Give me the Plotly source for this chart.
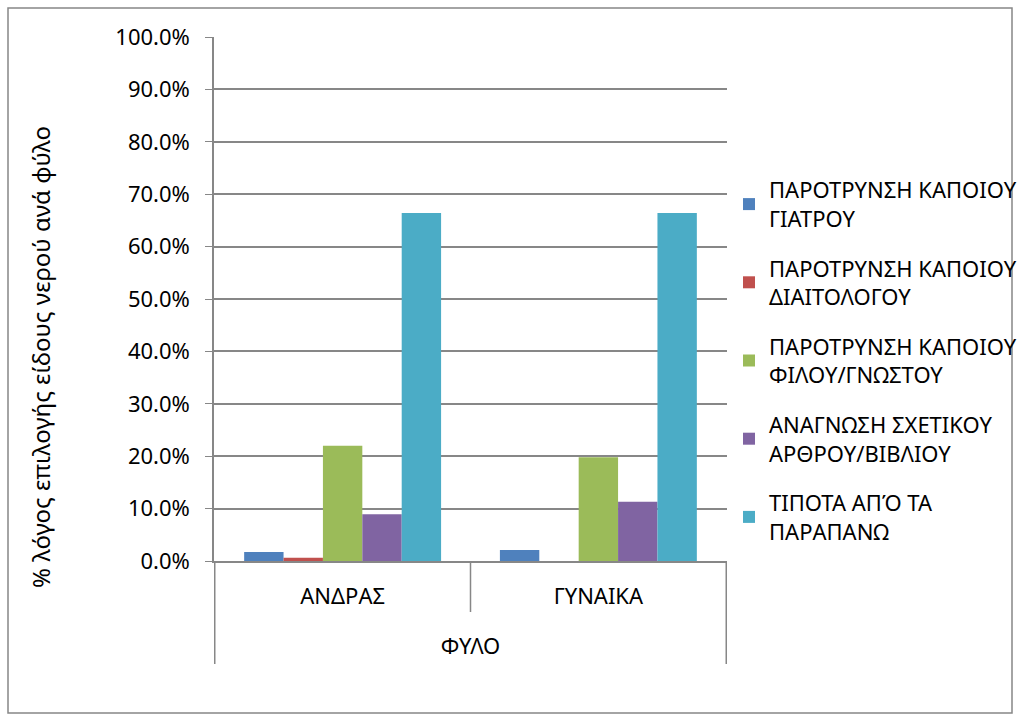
import plotly.graph_objects as go

# categories
genders = ["ΑΝΔΡΑΣ", "ΓΥΝΑΙΚΑ"]
group_title = "ΦΥΛΟ"
y_title = "% λόγος επιλογής είδους νερού ανά φύλο"

# series (percent)
series_names = [
    "ΠΑΡΟΤΡΥΝΣΗ ΚΑΠΟΙΟΥ<br>ΓΙΑΤΡΟΥ",
    "ΠΑΡΟΤΡΥΝΣΗ ΚΑΠΟΙΟΥ<br>ΔΙΑΙΤΟΛΟΓΟΥ",
    "ΠΑΡΟΤΡΥΝΣΗ ΚΑΠΟΙΟΥ<br>ΦΙΛΟΥ/ΓΝΩΣΤΟΥ",
    "ΑΝΑΓΝΩΣΗ ΣΧΕΤΙΚΟΥ<br>ΑΡΘΡΟΥ/ΒΙΒΛΙΟΥ",
    "ΤΙΠΟΤΑ ΑΠΌ ΤΑ<br>ΠΑΡΑΠΑΝΩ",
]
doctor = [1.7, 2.1]
dietitian = [0.6, 0.0]
friend = [22.0, 19.8]
article = [8.9, 11.3]
nothing = [66.4, 66.4]

colors = ["#4F81BD", "#C0504D", "#9BBB59", "#8064A2", "#4BACC6"]
values = [doctor, dietitian, friend, article, nothing]

W, H = 1020, 722
L, R, T, B = 214, 293, 37, 161
PW, PH = W - L - R, H - T - B
GRID = "#878787"
font = "Noto Sans"
FS = 22


def py(pix):
    # pixel row -> paper y
    return (H - B - pix) / PH


def px(pix):
    return (pix - L) / PW


fig = go.Figure()
for i, (name, vals, col) in enumerate(zip(series_names, values, colors)):
    fig.add_trace(go.Bar(
        x=genders,
        y=vals,
        name=name,
        marker=dict(color=col, line=dict(width=0)),
        legendgroup=f"g{i}",
    ))

fig.update_layout(
    width=W, height=H,
    margin=dict(l=L, r=R, t=T, b=B, autoexpand=False),
    paper_bgcolor="white", plot_bgcolor="white",
    font=dict(family=font, size=FS, color="black"),
    barmode="group",
    bargap=0.23, bargroupgap=0,
    showlegend=True,
    legend=dict(
        x=px(729), xanchor="left", y=py(169), yanchor="top",
        font=dict(size=FS, family=font),
        bgcolor="rgba(0,0,0,0)",
        tracegroupgap=18,
        itemwidth=30,
    ),
)
fig.update_yaxes(
    range=[0, 100], dtick=10,
    tickformat=".1f", ticksuffix="%",
    showgrid=True, gridcolor=GRID, gridwidth=1.5,
    showline=True, linecolor=GRID, linewidth=1.5,
    ticks="outside", ticklen=7, tickcolor=GRID,
    zeroline=False,
    ticklabelstandoff=11,
)
fig.update_xaxes(
    showline=True, linecolor=GRID, linewidth=1.5,
    ticks="", ticklabelstandoff=15,
    tickfont=dict(size=FS),
    title=dict(text=group_title, font=dict(size=FS), standoff=29),
)

# category dividers below the axis
fig.add_shape(type="line", xref="x", yref="paper", x0=0.5, x1=0.5,
              y0=0, y1=py(612), line=dict(color=GRID, width=1.5))
for xb in [-0.5, 1.5]:
    fig.add_shape(type="line", xref="x", yref="paper", x0=xb, x1=xb,
                  y0=0, y1=py(664), line=dict(color=GRID, width=1.5))

# y axis title, centred on the whole chart body
fig.add_annotation(
    text=y_title, textangle=-90, showarrow=False,
    xref="paper", yref="paper", x=px(40), y=py(357),
    xanchor="center", yanchor="middle",
    font=dict(size=24, family=font),
)

# outer chart border
fig.add_shape(
    type="rect", xref="paper", yref="paper",
    x0=px(8), x1=px(1012), y0=py(713), y1=py(8),
    line=dict(color=GRID, width=1.5), fillcolor="rgba(0,0,0,0)",
    layer="below",
)

fig.write_html("out.html", config={"displayModeBar": False},
               post_script="document.body.style.margin='0';")
